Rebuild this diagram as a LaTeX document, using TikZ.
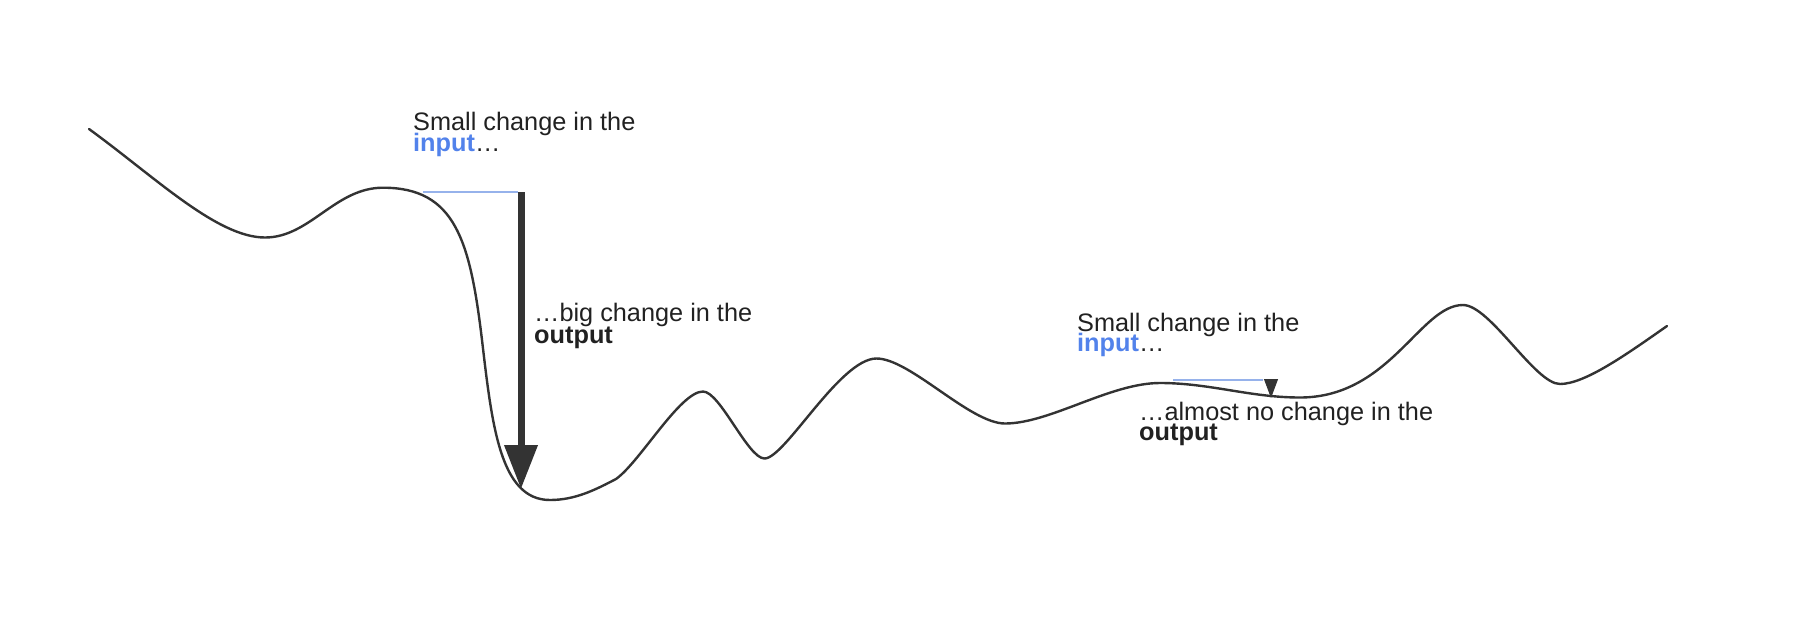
\documentclass[tikz,border=0pt]{standalone}
\usepackage{fontspec}
\setmainfont{Liberation Sans}
\usetikzlibrary{arrows.meta}
\definecolor{curvegray}{RGB}{51,51,51}
\definecolor{inblue}{RGB}{82,130,235}
\definecolor{linblue}{RGB}{150,178,235}
\definecolor{txtgray}{RGB}{33,33,33}
\begin{document}
\begin{tikzpicture}[x=1pt,y=-1pt,
  lbl/.style={anchor=base west, inner sep=0pt, text=txtgray, font=\fontsize{25.3}{21}\selectfont},
  curve/.style={draw=curvegray, line width=2.4pt, line join=round, line cap=round},
  inputline/.style={draw=linblue, line width=2.2pt},
  bigarrow/.style={draw=curvegray, line width=7pt, -{Triangle[width=32pt,length=44pt]}},
  smallarrow/.style={draw=curvegray, line width=1pt, -{Triangle[width=14pt,length=19pt]}}]
\useasboundingbox (0,0) rectangle (1800,622);
\draw[curve] (89,129)
  .. controls (155,177) and (217,237.5) .. (265,237.5)
  .. controls (310,237.5) and (335,187.7) .. (383,187.7)
  .. controls (455,187.7) and (470,240) .. (482,340)
  .. controls (492,425) and (500,500) .. (550,500)
  .. controls (575,500) and (595,490) .. (616,479)
  .. controls (640,462) and (680,391.5) .. (703,391.5)
  .. controls (720,391.5) and (748,458.5) .. (764.5,458.5)
  .. controls (785,458.5) and (840,358.5) .. (876.5,358.5)
  .. controls (910,358.5) and (970,423.5) .. (1005,423.5)
  .. controls (1050,423.5) and (1110,383) .. (1160,383)
  .. controls (1210,383) and (1250,397.5) .. (1300,397.5)
  .. controls (1390,397.5) and (1420,305) .. (1463,305)
  .. controls (1490,305) and (1535,384) .. (1560,384)
  .. controls (1585,384) and (1627,354) .. (1667,326);
% first change
\coordinate (in1s) at (423,192);
\coordinate (in1e) at (518,192);
\coordinate (big1) at (521,192);
\coordinate (big2) at (521,489);
\draw[inputline] (in1s) -- (in1e);
\draw[bigarrow] (big1) -- (big2);
% second change
\coordinate (in2s) at (1173,380);
\coordinate (in2e) at (1263,380);
\coordinate (sm1) at (1271,379);
\coordinate (sm2) at (1271,398);
\draw[inputline] (in2s) -- (in2e);
\draw[smallarrow] (sm1) -- (sm2);
% labels
\node[lbl] (l1a) at (413,130.7) {Small change in the};
\node[lbl] (l1b) at (413,151.7) {\textcolor{inblue}{\bfseries input}…};
\node[lbl] (l2a) at (534,321.7) {…big change in the};
\node[lbl] (l2b) at (534,343.3) {\bfseries output};
\node[lbl] (l3a) at (1077,331) {Small change in the};
\node[lbl] (l3b) at (1077,351.7) {\textcolor{inblue}{\bfseries input}…};
\node[lbl] (l4a) at (1139,420) {…almost no change in the};
\node[lbl] (l4b) at (1139,440) {\bfseries output};
\end{tikzpicture}
\end{document}
